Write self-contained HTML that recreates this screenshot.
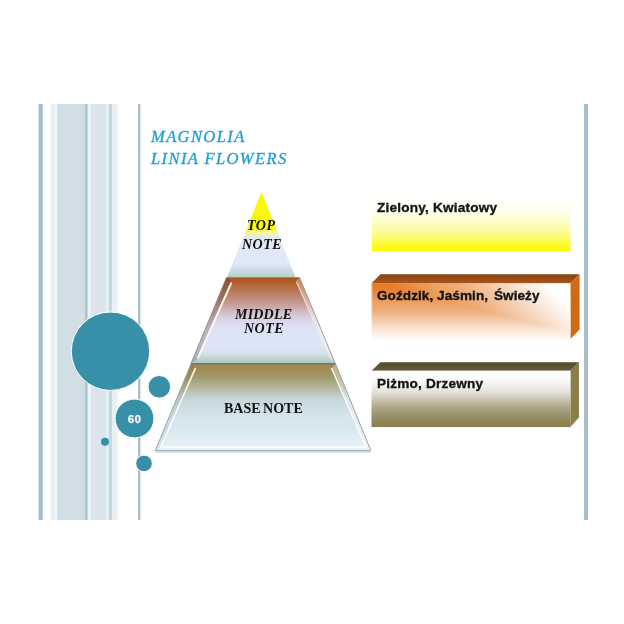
<!DOCTYPE html>
<html><head><meta charset="utf-8">
<style>
html,body{margin:0;padding:0;background:#fff;}
body{width:624px;height:624px;overflow:hidden;position:relative;}
svg{position:absolute;left:0;top:0;}
.t{position:absolute;white-space:nowrap;line-height:1;will-change:transform;}
.ttl{font-family:"Liberation Serif",serif;font-style:italic;color:#1a9ddc;font-size:16.5px;letter-spacing:1.4px;-webkit-text-stroke:0.3px #1a9ddc;}
.pn{font-family:"Liberation Serif",serif;font-weight:bold;font-style:italic;color:#111;font-size:14px;letter-spacing:0.5px;}
.bn{font-family:"Liberation Serif",serif;font-weight:bold;color:#111;font-size:14px;word-spacing:-1px;}
.bx{font-family:"Liberation Sans",sans-serif;font-weight:bold;color:#141414;font-size:13px;letter-spacing:0.2px;transform:scaleX(1.045);transform-origin:0 0;-webkit-text-stroke:0.35px #141414;}
</style></head><body>
<svg width="624" height="624" viewBox="0 0 624 624">
<defs>
<linearGradient id="gTop" x1="0" y1="192" x2="0" y2="277.5" gradientUnits="userSpaceOnUse">
<stop offset="0" stop-color="#f8f800"/>
<stop offset="0.42" stop-color="#f8f810"/>
<stop offset="0.48" stop-color="#f2f4a8"/>
<stop offset="0.54" stop-color="#e2e8f4"/>
<stop offset="0.84" stop-color="#dfe8f8"/>
<stop offset="0.92" stop-color="#c8dae0"/>
<stop offset="1" stop-color="#b4d0c6"/>
</linearGradient>
<linearGradient id="gMid" x1="0" y1="277.5" x2="0" y2="363.5" gradientUnits="userSpaceOnUse">
<stop offset="0" stop-color="#a85420"/>
<stop offset="0.05" stop-color="#b05a28"/>
<stop offset="0.09" stop-color="#b46838"/>
<stop offset="0.145" stop-color="#b87450"/>
<stop offset="0.21" stop-color="#bc8670"/>
<stop offset="0.26" stop-color="#c09080"/>
<stop offset="0.33" stop-color="#c8a4a0"/>
<stop offset="0.4" stop-color="#d0bcc8"/>
<stop offset="0.45" stop-color="#d8ccd8"/>
<stop offset="0.52" stop-color="#dcd8ec"/>
<stop offset="0.6" stop-color="#dee2f6"/>
<stop offset="0.8" stop-color="#dee6f8"/>
<stop offset="0.89" stop-color="#d2e0ea"/>
<stop offset="0.95" stop-color="#bed2cc"/>
<stop offset="1" stop-color="#aec6b6"/>
</linearGradient>
<linearGradient id="gBase" x1="0" y1="364" x2="0" y2="450.5" gradientUnits="userSpaceOnUse">
<stop offset="0" stop-color="#6c7252"/>
<stop offset="0.015" stop-color="#a88848"/>
<stop offset="0.05" stop-color="#a88848"/>
<stop offset="0.08" stop-color="#a09060"/>
<stop offset="0.16" stop-color="#a09a6c"/>
<stop offset="0.23" stop-color="#aeac8c"/>
<stop offset="0.3" stop-color="#b8bca8"/>
<stop offset="0.36" stop-color="#c0ccc8"/>
<stop offset="0.42" stop-color="#c8d8dc"/>
<stop offset="0.6" stop-color="#d2e4ec"/>
<stop offset="0.85" stop-color="#deecf4"/>
<stop offset="1" stop-color="#e8f2f8"/>
</linearGradient>
<linearGradient id="gY" x1="0" y1="195" x2="0" y2="252" gradientUnits="userSpaceOnUse">
<stop offset="0" stop-color="#ffffff"/>
<stop offset="0.25" stop-color="#fffff4"/>
<stop offset="0.42" stop-color="#fdfdd2"/>
<stop offset="0.7" stop-color="#fbfb88"/>
<stop offset="0.8" stop-color="#fbfb50"/>
<stop offset="0.95" stop-color="#fbfb08"/>
<stop offset="1" stop-color="#fafa00"/>
</linearGradient>
<linearGradient id="gO" x1="0" y1="283.3" x2="0" y2="339" gradientUnits="userSpaceOnUse">
<stop offset="0" stop-color="#e87818"/>
<stop offset="0.125" stop-color="#e88030"/>
<stop offset="0.23" stop-color="#ea9048"/>
<stop offset="0.34" stop-color="#eda060"/>
<stop offset="0.48" stop-color="#eeac78"/>
<stop offset="0.63" stop-color="#f2c4a0"/>
<stop offset="0.75" stop-color="#f6d8c0"/>
<stop offset="0.875" stop-color="#fcece0"/>
<stop offset="1" stop-color="#fffaf6"/>
</linearGradient>
<linearGradient id="gOh" x1="371.5" y1="283.3" x2="458.75" y2="196.05" gradientUnits="userSpaceOnUse">
<stop offset="0" stop-color="#e87818"/>
<stop offset="0.125" stop-color="#e88030"/>
<stop offset="0.23" stop-color="#ea9048"/>
<stop offset="0.34" stop-color="#eda060"/>
<stop offset="0.48" stop-color="#eeac78"/>
<stop offset="0.63" stop-color="#f2c4a0"/>
<stop offset="0.75" stop-color="#f6d8c0"/>
<stop offset="0.875" stop-color="#fcece0"/>
<stop offset="1" stop-color="#ffffff"/>
</linearGradient>
<linearGradient id="gOv" x1="0" y1="283" x2="0" y2="339" gradientUnits="userSpaceOnUse">
<stop offset="0" stop-color="#ffffff" stop-opacity="0"/>
<stop offset="0.5" stop-color="#ffffff" stop-opacity="0.12"/>
<stop offset="0.75" stop-color="#ffffff" stop-opacity="0.32"/>
<stop offset="0.9" stop-color="#ffffff" stop-opacity="0.6"/>
<stop offset="1" stop-color="#ffffff" stop-opacity="0.97"/>
</linearGradient>
<linearGradient id="gG" x1="0" y1="371" x2="0" y2="427" gradientUnits="userSpaceOnUse">
<stop offset="0" stop-color="#ffffff"/>
<stop offset="0.14" stop-color="#fbfbfa"/>
<stop offset="0.28" stop-color="#f0eeea"/>
<stop offset="0.38" stop-color="#e4e0d8"/>
<stop offset="0.52" stop-color="#c8c2b0"/>
<stop offset="0.64" stop-color="#b0a98a"/>
<stop offset="0.77" stop-color="#9c9470"/>
<stop offset="0.9" stop-color="#8e8658"/>
<stop offset="1" stop-color="#888050"/>
</linearGradient>
<linearGradient id="gMidL" x1="0" y1="277.5" x2="0" y2="363.5" gradientUnits="userSpaceOnUse">
<stop offset="0" stop-color="#7a4a30"/>
<stop offset="0.35" stop-color="#9a7c78"/>
<stop offset="0.6" stop-color="#a8a8c0"/>
<stop offset="1" stop-color="#98b0a8"/>
</linearGradient>
<linearGradient id="gBaseL" x1="0" y1="364" x2="0" y2="450.5" gradientUnits="userSpaceOnUse">
<stop offset="0" stop-color="#7a6a40"/>
<stop offset="0.35" stop-color="#a0a090"/>
<stop offset="0.6" stop-color="#b0c4cc"/>
<stop offset="1" stop-color="#b8ccd4"/>
</linearGradient>
<linearGradient id="gOt" x1="0" y1="274.2" x2="0" y2="283.3" gradientUnits="userSpaceOnUse">
<stop offset="0" stop-color="#8a4210"/>
<stop offset="1" stop-color="#a8561e"/>
</linearGradient>
<linearGradient id="gGt" x1="0" y1="362.3" x2="0" y2="370.8" gradientUnits="userSpaceOnUse">
<stop offset="0" stop-color="#544a2c"/>
<stop offset="1" stop-color="#665c3a"/>
</linearGradient>
</defs>

<!-- left decorative stripes -->
<rect x="38.6" y="104" width="4.2" height="416" fill="#a8bdcc"/>
<rect x="50.4" y="104" width="4.8" height="416" fill="#e8f0ee"/>
<rect x="55.2" y="104" width="2" height="416" fill="#eef4fb"/>
<rect x="57.2" y="104" width="27.8" height="416" fill="#d1dee5"/>
<rect x="85" y="104" width="2.8" height="416" fill="#a9c7c9"/>
<rect x="87.8" y="104" width="3.2" height="416" fill="#e9f2fa"/>
<rect x="91" y="104" width="8" height="416" fill="#dee3eb"/>
<rect x="99" y="104" width="7.5" height="416" fill="#dae6ed"/>
<rect x="106.5" y="104" width="2" height="416" fill="#e6f2f4"/>
<rect x="108.5" y="104" width="3.5" height="416" fill="#c7d8df"/>
<rect x="112" y="104" width="4" height="416" fill="#e7eff3"/>
<rect x="116" y="104" width="2.5" height="416" fill="#f2f6f8"/>
<rect x="138" y="104" width="2.4" height="416" fill="#abbecc"/>
<!-- right border -->
<rect x="584" y="104" width="4" height="416" fill="#a6bdcb"/>

<!-- circles -->
<circle cx="110.5" cy="351.2" r="39.2" fill="#3890a8" stroke="#fff" stroke-width="1"/>
<circle cx="159.3" cy="386.8" r="11.3" fill="#3890a8" stroke="#fff" stroke-width="1"/>
<circle cx="134.5" cy="418.5" r="19.4" fill="#3890a8" stroke="#fff" stroke-width="1"/>
<circle cx="105" cy="441.8" r="4" fill="#3890a8"/>
<circle cx="144" cy="463.4" r="8.3" fill="#3890a8" stroke="#fff" stroke-width="1"/>

<!-- pyramid -->
<polygon points="261.5,192 295.5,277.5 227,277.5" fill="url(#gTop)"/>
<!-- middle -->
<polygon points="226.5,277.5 299.5,277.5 335.3,363.5 191,363.5" fill="url(#gMid)"/>
<polygon points="226.5,277.5 231,281 196.5,360 191,363.5" fill="url(#gMidL)" opacity="0.8"/>
<polygon points="299.5,277.5 296,281 330.5,360 335.3,363.5" fill="#ffffff" opacity="0.3"/>
<line x1="231.5" y1="282.5" x2="197.8" y2="358" stroke="#fff6ee" stroke-width="1.9"/>
<line x1="296.5" y1="282" x2="330.5" y2="359" stroke="#f8e8dc" stroke-width="1.2" opacity="0.8"/>
<polygon points="226.5,277.5 299.5,277.5 335.3,363.5 191,363.5" fill="none" stroke="#8c7a70" stroke-width="0.7"/>
<!-- base -->
<polygon points="191,364 335.5,364 370.8,450.5 155.3,450.5" fill="url(#gBase)"/>
<polygon points="191,364 195,367.5 160,447 155.3,450.5" fill="url(#gBaseL)" opacity="0.35"/>
<polygon points="335.5,364 332,367.5 366.5,447 370.8,450.5" fill="#ffffff" opacity="0.35"/>
<polyline points="195.5,368 160.8,447 365.8,447 331.5,368" fill="none" stroke="#ffffff" stroke-width="1.5" opacity="0.95"/>
<line x1="195.5" y1="368" x2="186" y2="389.5" stroke="#fff0c8" stroke-width="1.5" opacity="0.8"/>
<polygon points="191,364 335.5,364 370.8,450.5 155.3,450.5" fill="none" stroke="#98a2a6" stroke-width="1"/>
<line x1="155" y1="451" x2="371" y2="451" stroke="#b0b8bc" stroke-width="1.2"/>
<line x1="156" y1="452.3" x2="370.5" y2="452.3" stroke="#d8dcde" stroke-width="1.2"/>
<line x1="191" y1="363.8" x2="335.5" y2="363.8" stroke="#66725a" stroke-width="1.2"/>

<!-- box 1 yellow -->
<rect x="371.8" y="195" width="198.7" height="56.3" fill="url(#gY)"/>

<!-- box 2 orange -->
<polygon points="371.5,283.3 380.5,274.2 579.6,274.2 570.4,283.3" fill="url(#gOt)"/>
<polygon points="570.4,283.3 579.6,274.2 579.6,329.4 570.4,339" fill="#d06a14"/>
<rect x="371.5" y="283.3" width="198.9" height="55.7" fill="url(#gO)"/>
<polygon points="371.5,283.3 570.4,283.3 570.4,331.4" fill="url(#gOh)"/>
<rect x="371.5" y="283.3" width="1" height="55.7" fill="#fff" opacity="0.35"/>

<!-- box 3 olive -->
<polygon points="371.5,370.8 380.5,362.3 579,362.3 570.4,370.8" fill="url(#gGt)"/>
<polygon points="570.4,370.8 579,362.3 579,417.5 570.4,427" fill="#8a7e4a"/>
<rect x="371.5" y="370.8" width="198.9" height="56.3" fill="url(#gG)"/>
</svg>

<div class="t ttl" style="left:151px;top:129px;">MAGNOLIA</div>
<div class="t ttl" style="left:151px;top:151px;">LINIA FLOWERS</div>

<div class="t pn" style="left:247px;top:219px;">TOP</div>
<div class="t pn" style="left:242px;top:238px;">NOTE</div>
<div class="t pn" style="left:235px;top:308px;letter-spacing:0.2px;">MIDDLE</div>
<div class="t pn" style="left:244px;top:322px;">NOTE</div>
<div class="t bn" style="left:224px;top:401.5px;">BASE NOTE</div>

<div class="t bx" style="left:377px;top:201.3px;">Zielony, Kwiatowy</div>
<div class="t bx" style="left:377px;top:288.5px;letter-spacing:0.05px;">Goździk, Jaśmin,<span style="letter-spacing:0;word-spacing:2px"> </span>Świeży</div>
<div class="t bx" style="left:377px;top:376.5px;">Piżmo, Drzewny</div>

<div class="t" style="left:127.5px;top:413.6px;font-family:'Liberation Sans',sans-serif;font-weight:bold;color:#fff;font-size:11px;letter-spacing:0.7px;-webkit-text-stroke:0.25px #fff;">60</div>
</body></html>
